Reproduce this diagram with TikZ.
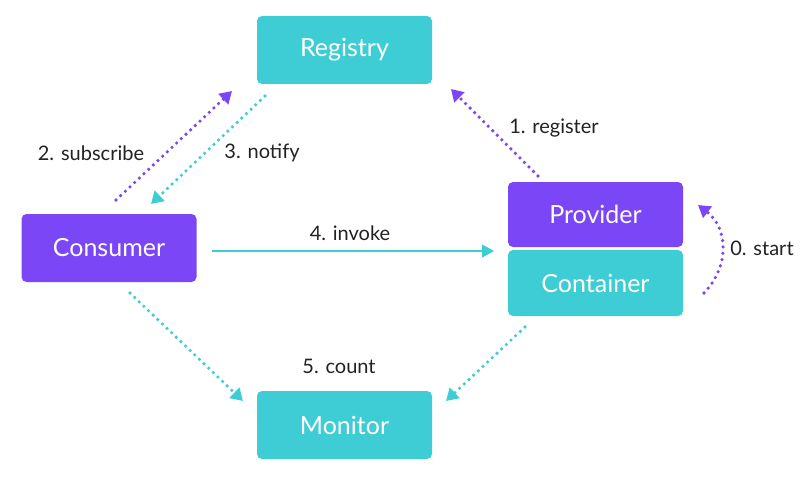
\documentclass[tikz,border=0pt]{standalone}
\usepackage{fontspec}
\setmainfont{Lato}
\usetikzlibrary{arrows.meta}
\definecolor{teal1}{HTML}{3ECDD4}
\definecolor{purp}{HTML}{7B46F6}
\definecolor{txt}{HTML}{222222}
\begin{document}
\begin{tikzpicture}[x=1pt,y=-1pt,
  box/.style={rounded corners=5pt, minimum width=175pt, minimum height=68pt, inner sep=0pt, text=white, font=\fontsize{25}{28}\selectfont},
  tbox/.style={box, fill=teal1},
  pbox/.style={box, fill=purp},
  lbl/.style={text=txt, font=\fontsize{20}{22}\selectfont, inner sep=0pt},
  dot/.style={line width=3.6pt, line cap=round, dash pattern=on 0pt off 6.4pt, -{Triangle[length=12pt,width=14pt]}},
  tdot/.style={dot, draw=teal1},
  pdot/.style={dot, draw=purp}
]
\useasboundingbox (0,0) rectangle (805,492);
\node[tbox] (reg) at (344.5,50) {Registry};
\node[pbox] (con) at (109,248) {Consumer};
\node[pbox, minimum height=65pt] (prov) at (595.5,214.5) {Provider};
\node[tbox, minimum height=66pt] (cont) at (595.5,283) {Container};
\node[tbox] (mon) at (344.5,425) {Monitor};

\coordinate (s1) at (116,200); \coordinate (s2) at (232,91);
\coordinate (n1) at (265,96); \coordinate (n2) at (151,204);
\coordinate (r1) at (538,176); \coordinate (r2) at (451,89);
\coordinate (i1) at (212,251); \coordinate (i2) at (494,251);
\coordinate (c1) at (130,293); \coordinate (c2) at (243,401);
\coordinate (k1) at (525,327); \coordinate (k2) at (446,401);
\coordinate (z1) at (704,293); \coordinate (z2) at (698,205);

\draw[pdot] (s1) -- (s2);
\draw[tdot] (n1) -- (n2);
\draw[pdot] (r1) -- (r2);
\draw[draw=teal1, line width=1.4pt, -{Triangle[length=12pt,width=13pt]}] (i1) -- (i2);
\draw[tdot] (c1) -- (c2);
\draw[tdot] (k1) -- (k2);
\draw[pdot] (z1) .. controls (730,266) and (728,228) .. (z2);

\node[lbl] (l2) at (91,153) {2. subscribe};
\node[lbl] (l3) at (262,153) {3. notify};
\node[lbl] (l1) at (554,128) {1. register};
\node[lbl] (l4) at (350,233) {4. invoke};
\node[lbl] (l0) at (762,248) {0. start};
\node[lbl] (l5) at (339,366) {5. count};
\end{tikzpicture}
\end{document}
